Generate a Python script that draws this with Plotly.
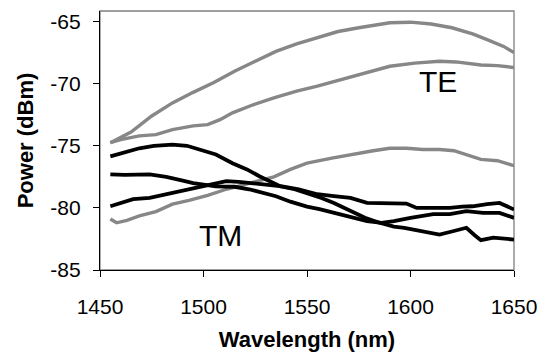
import plotly.graph_objects as go

# TE (gray) series
te1_x = [1455, 1465, 1475, 1485, 1495, 1505, 1515, 1525, 1535, 1545, 1555, 1565, 1575, 1585, 1590, 1600, 1605, 1610, 1620, 1630, 1637, 1645, 1650]
te1_y = [-74.75, -73.9, -72.6, -71.55, -70.7, -69.9, -69.0, -68.2, -67.4, -66.8, -66.3, -65.8, -65.5, -65.2, -65.1, -65.05, -65.1, -65.2, -65.5, -66.0, -66.45, -67.0, -67.5]

te2_x = [1455, 1460, 1469, 1477, 1485, 1495, 1502, 1508, 1514, 1524, 1534, 1545, 1555, 1566, 1578, 1590, 1602, 1614, 1622, 1628, 1634, 1642, 1650]
te2_y = [-74.75, -74.5, -74.2, -74.1, -73.7, -73.4, -73.3, -72.9, -72.35, -71.7, -71.15, -70.6, -70.2, -69.7, -69.1, -68.6, -68.35, -68.2, -68.25, -68.4, -68.5, -68.55, -68.7]

te3_x = [1455, 1458, 1463, 1469, 1477, 1485, 1493, 1502, 1511, 1518, 1526, 1534, 1542, 1550, 1562, 1574, 1582, 1590, 1598, 1606, 1614, 1621, 1628, 1634, 1642, 1650]
te3_y = [-80.9, -81.2, -81.0, -80.65, -80.3, -79.7, -79.4, -79.0, -78.5, -78.2, -77.9, -77.5, -76.9, -76.4, -76.0, -75.6, -75.4, -75.2, -75.2, -75.3, -75.3, -75.4, -75.8, -76.1, -76.2, -76.6]

# TM (black) series
tma_x = [1455, 1462, 1469, 1476, 1485, 1492, 1498, 1506, 1514, 1521, 1527, 1533, 1537, 1544, 1550, 1557, 1563, 1570, 1578, 1585, 1592, 1597, 1603, 1609, 1614, 1620, 1627, 1631, 1634, 1640, 1645, 1650]
tma_y = [-75.85, -75.5, -75.2, -75.0, -74.9, -75.0, -75.3, -75.7, -76.4, -76.9, -77.45, -77.9, -78.26, -78.5, -78.8, -79.2, -79.6, -80.2, -80.8, -81.2, -81.5, -81.6, -81.8, -82.0, -82.15, -81.9, -81.6, -82.2, -82.6, -82.4, -82.5, -82.55]

tmb_x = [1455, 1462, 1474, 1482, 1490, 1495, 1506, 1515, 1522, 1530, 1535, 1542, 1550, 1556, 1563, 1571, 1579, 1586, 1592, 1600, 1606, 1611, 1619, 1627, 1635, 1643, 1650]
tmb_y = [-77.3, -77.35, -77.3, -77.5, -77.8, -78.0, -78.26, -78.3, -78.5, -78.8, -79.06, -79.5, -79.9, -80.1, -80.4, -80.7, -81.07, -81.2, -81.07, -80.8, -80.6, -80.5, -80.5, -80.26, -80.4, -80.4, -80.8]

tmc_x = [1455, 1460, 1466, 1474, 1482, 1490, 1498, 1505, 1511, 1517, 1522, 1530, 1538, 1546, 1555, 1563, 1571, 1579, 1590, 1598, 1603, 1611, 1619, 1625, 1630, 1637, 1643, 1650]
tmc_y = [-79.87, -79.6, -79.3, -79.2, -78.9, -78.6, -78.26, -78.0, -77.85, -77.9, -78.0, -78.1, -78.26, -78.5, -78.9, -79.06, -79.2, -79.6, -79.6, -79.65, -80.0, -80.0, -80.0, -79.9, -79.87, -79.7, -79.6, -80.13]

x_ticks = [1450, 1500, 1550, 1600, 1650]
y_ticks = [-85, -80, -75, -70, -65]

GRAY = "#878787"
BLACK = "#000000"
FONT = "Arial, Liberation Sans, sans-serif"

fig = go.Figure()
for xs, ys in [(te1_x, te1_y), (te2_x, te2_y), (te3_x, te3_y)]:
    fig.add_trace(go.Scatter(x=xs, y=ys, mode="lines",
                             line=dict(color=GRAY, width=3.4), showlegend=False))
for xs, ys in [(tma_x, tma_y), (tmb_x, tmb_y), (tmc_x, tmc_y)]:
    fig.add_trace(go.Scatter(x=xs, y=ys, mode="lines",
                             line=dict(color=BLACK, width=3.8), showlegend=False))

fig.add_annotation(x=1613.3, y=-69.8, text="TE", showarrow=False,
                   font=dict(family=FONT, size=30, color="black"))
fig.add_annotation(x=1508, y=-82.2, text="TM", showarrow=False,
                   font=dict(family=FONT, size=30, color="black"))

# gray plot-area border (top/right)
fig.add_shape(type="rect", xref="paper", yref="paper", x0=0, y0=0, x1=1, y1=1,
              line=dict(color="#808080", width=1.3), layer="below")

fig.update_layout(
    width=546, height=356,
    margin=dict(l=100, r=32, t=11, b=86),
    paper_bgcolor="white", plot_bgcolor="white",
    font=dict(family=FONT, size=21, color="black"),
    xaxis=dict(range=[1450, 1650], tickvals=x_ticks, ticktext=[str(v) for v in x_ticks],
               automargin=False,
               showgrid=False, zeroline=False, showline=True, linecolor="black", linewidth=1.3,
               ticks="outside", ticklen=6, tickcolor="black", tickwidth=1.3,
               ticklabelstandoff=12,
               title=dict(text="<b>Wavelength (nm)</b>", font=dict(family=FONT, size=22), standoff=14)),
    yaxis=dict(range=[-85, -64.15], tickvals=y_ticks, ticktext=[str(v) for v in y_ticks],
               automargin=False,
               showgrid=False, zeroline=False, showline=True, linecolor="black", linewidth=1.3,
               ticks="outside", ticklen=6, tickcolor="black", tickwidth=1.3,
               ticklabelstandoff=8,
               title=dict(text="<b>Power (dBm)</b>", font=dict(family=FONT, size=22), standoff=10)),
)

fig.write_html("out.html", config={"displayModeBar": False},
               post_script="document.body.style.margin='0';")
